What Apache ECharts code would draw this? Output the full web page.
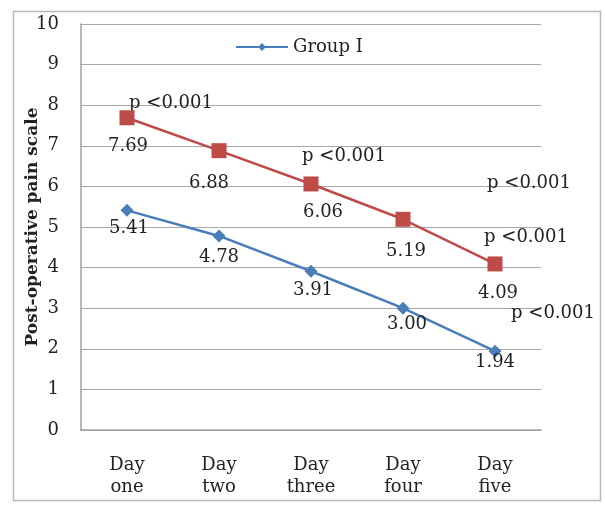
<!DOCTYPE html>
<html><head><meta charset="utf-8">
<script src="https://cdn.jsdelivr.net/npm/echarts@6/dist/echarts.min.js"></script>
<style>html,body{margin:0;padding:0;background:#fff}#c{width:605px;height:506px}</style>
</head><body><div id="c"></div>
<script>
const categories = ['Day\none', 'Day\ntwo', 'Day\nthree', 'Day\nfour', 'Day\nfive'];
const groupI = [5.41, 4.78, 3.91, 3.00, 1.94];
const groupII = [7.69, 6.88, 6.06, 5.19, 4.09];
const yTicks = [0, 1, 2, 3, 4, 5, 6, 7, 8, 9, 10];
const pText = 'p <0.001';

const font = 'DejaVu Serif';
const fs = 18;
const blue = '#4a7ebb', red = '#be4b48';
const chart = echarts.init(document.getElementById('c'));

function valLabels(vals, offs) {
  return vals.map((v, i) => ({ value: v, label: { offset: offs[i] } }));
}
// p-value annotation series: invisible lines that only carry labels
function pSeries(vals, idx, off) {
  return {
    type: 'line',
    data: vals.map((v, i) => i === idx ? { value: v, label: { show: true, offset: off } } : { value: v, label: { show: false } }),
    symbol: 'circle', symbolSize: 2, itemStyle: { color: 'rgba(0,0,0,0)' },
    lineStyle: { width: 0, color: 'rgba(0,0,0,0)' }, silent: true, z: 1,
    label: { show: true, position: 'inside', formatter: pText, color: '#222', fontFamily: font, fontSize: fs }
  };
}

chart.setOption({
  animation: false,
  grid: { left: 81, right: 64, top: 24, bottom: 76 },
  graphic: [{ type: 'rect', shape: { x: 13.5, y: 11.5, width: 587, height: 489 }, style: { fill: 'none', stroke: '#b8b8b8', lineWidth: 1.5 } }],
  legend: {
    data: ['Group I'], top: 33, left: 230, itemWidth: 52, itemHeight: 10, itemGap: 6,
    textStyle: { fontFamily: font, fontSize: fs, color: '#222' }
  },
  xAxis: {
    type: 'category', data: categories, boundaryGap: true,
    axisLine: { lineStyle: { color: '#a0a0a0', width: 1.5 } }, axisTick: { show: false },
    axisLabel: { fontFamily: font, fontSize: fs, color: '#222', lineHeight: 22, margin: 24 }
  },
  yAxis: {
    type: 'value', min: 0, max: 10, interval: 1,
    name: 'Post-operative pain scale', nameLocation: 'middle', nameGap: 40, nameRotate: 90, nameMoveOverlap: false,
    nameTextStyle: { fontFamily: font, fontSize: 17, color: '#222', fontWeight: 'bold', padding: [0, 0, 0, 0] },
    axisLine: { show: true, lineStyle: { color: '#a0a0a0', width: 1.5 } }, axisTick: { show: false },
    axisLabel: { fontFamily: font, fontSize: fs, color: '#222', margin: 22, formatter: v => yTicks.includes(v) ? String(v) : '' },
    splitLine: { lineStyle: { color: '#a8a8a8', width: 1.2 } }
  },
  series: [
    {
      name: 'Group I', type: 'line', data: valLabels(groupI, [[2, 18], [0, 21], [2, 19], [4, 16], [0, 11]]),
      symbol: 'diamond', symbolSize: 13, color: blue, lineStyle: { width: 2.5, color: blue }, z: 3,
      label: { show: true, position: 'inside', formatter: p => p.value.toFixed(2), color: '#222', fontFamily: font, fontSize: fs }
    },
    {
      name: 'Group II', type: 'line', data: valLabels(groupII, [[1, 29], [-10, 33], [12, 28], [3, 32], [3, 29]]),
      symbol: 'rect', symbolSize: 15, color: red, lineStyle: { width: 2.5, color: red }, z: 3,
      label: { show: true, position: 'inside', formatter: p => p.value.toFixed(2), color: '#222', fontFamily: font, fontSize: fs }
    },
    pSeries(groupII, 0, [44, -14]),
    pSeries(groupII, 2, [33, -28]),
    pSeries(groupII, 4, [34, -81]),
    pSeries(groupII, 4, [31, -27]),
    pSeries(groupI, 4, [58, -38])
  ]
});
</script></body></html>
